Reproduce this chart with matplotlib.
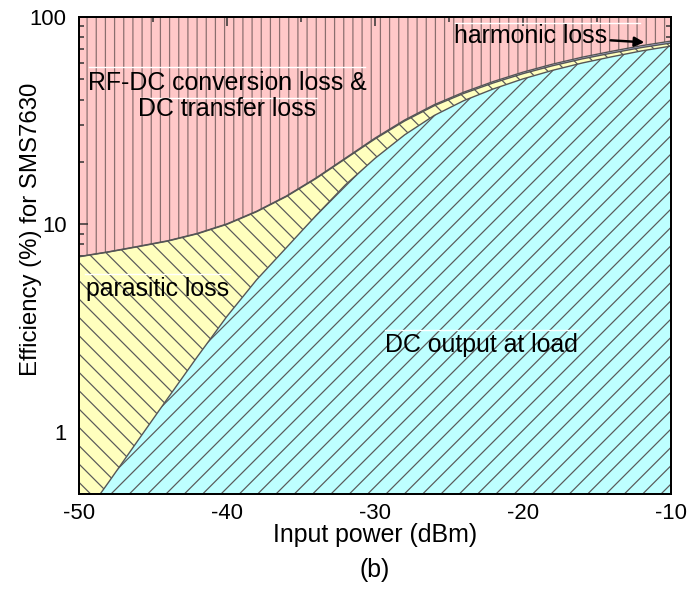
import numpy as np
import matplotlib
matplotlib.use("Agg")
import matplotlib.pyplot as plt
from matplotlib.ticker import FixedLocator, LogLocator, NullFormatter, FixedFormatter

plt.rcParams['font.family'] = ['Liberation Sans', 'DejaVu Sans']
plt.rcParams['axes.unicode_minus'] = False
plt.rcParams['hatch.linewidth'] = 0.8

# Input power (dBm)
input_power = [-50, -48, -46, -44, -42, -40, -38, -36, -34, -32, -30,
               -28, -26, -24, -22, -20, -18, -16, -14, -12, -10]
# efficiency components (%)
dc_output = [0.36, 0.57, 0.91, 1.45, 2.3, 3.6, 5.4, 7.7, 11.0, 15.5, 20.8,
             27.0, 33.5, 39.5, 45.0, 50.3, 55.3, 60.0, 64.3, 68.6, 72.4]
parasitic_loss = [6.61, 6.78, 6.89, 6.85, 6.70, 6.40, 6.10, 5.90, 5.60, 5.20, 5.00,
                  4.50, 3.80, 3.30, 3.10, 3.00, 2.90, 2.80, 2.70, 2.60, 2.50]
harmonic_loss = [0.02, 0.02, 0.03, 0.03, 0.04, 0.05, 0.06, 0.08, 0.11, 0.15, 0.25,
                 0.35, 0.45, 0.60, 0.75, 0.90, 1.05, 1.20, 1.35, 1.50, 1.65]

DPI = 110
x = np.array(input_power, dtype=float)
stack = np.cumsum(np.vstack([dc_output, parasitic_loss, harmonic_loss]), axis=0)
top = np.full_like(x, 100.0)
floor = np.full_like(x, 0.01)

fig = plt.figure(figsize=(687 / DPI, 601 / DPI), dpi=DPI)
ax = fig.add_axes([0.115, 0.178, 0.8617, 0.7937])

edge = '#5a5a5a'
ax.fill_between(x, stack[2], top, facecolor='#FFC8C8', edgecolor='#8a6e6e',
                hatch='||', linewidth=0, zorder=1)
ax.fill_between(x, stack[1], stack[2], facecolor='#A8AEE8', edgecolor=edge,
                linewidth=0, zorder=2)
ax.fill_between(x, stack[0], stack[1], facecolor='#FFFFBE', edgecolor=edge,
                hatch='\\\\', linewidth=0, zorder=2)
ax.fill_between(x, floor, stack[0], facecolor='#BEFFFF', edgecolor=edge,
                hatch='//', linewidth=0, zorder=2)
for b in stack:
    ax.plot(x, b, color='#555555', lw=0.9, zorder=3)

ax.set_yscale('log')
ax.set_xlim(-50, -10)
ax.set_ylim(0.5, 100)
ax.xaxis.set_major_locator(FixedLocator([-50, -40, -30, -20, -10]))
ax.xaxis.set_minor_locator(FixedLocator([-45, -35, -25, -15]))
ax.yaxis.set_major_locator(FixedLocator([1, 10, 100]))
ax.yaxis.set_major_formatter(FixedFormatter(['1', '10', '100']))
ax.yaxis.set_minor_locator(LogLocator(base=10, subs=np.arange(2, 10)))
ax.yaxis.set_minor_formatter(NullFormatter())
ax.tick_params(which='both', direction='in', top=True, right=True,
               labelsize=14.5, color='#333333')
ax.tick_params(which='major', length=6, width=1)
ax.tick_params(which='minor', length=3.5, width=1)
ax.tick_params(axis='x', pad=6)
ax.tick_params(axis='y', pad=8)
for s in ax.spines.values():
    s.set_linewidth(1.3)
    s.set_zorder(5)

fs = 16.3
ax.set_xlabel('Input power (dBm)', fontsize=fs)
ax.xaxis.set_label_coords(0.5, -0.061)
ax.set_ylabel('Efficiency (%) for SMS7630', fontsize=15.7)
ax.yaxis.set_label_coords(-0.0625, 0.555)
fig.text(0.546, 0.052, '(b)', ha='center', va='center', fontsize=fs)

ax.text(-40.0, 41.5, 'RF-DC conversion loss &\nDC transfer loss', ha='center',
        va='center', fontsize=fs, linespacing=1.12, zorder=6)
ax.text(-49.5, 4.87, 'parasitic loss', ha='left', va='center', fontsize=fs, zorder=6)
ax.text(-22.8, 2.62, 'DC output at load', ha='center', va='center', fontsize=fs, zorder=6)
ax.annotate('harmonic loss', xy=(-11.8, 75.5), xytext=(-19.46, 81.3),
            ha='center', va='center', fontsize=fs, zorder=6,
            arrowprops=dict(arrowstyle='-|>', color='black', lw=1.6,
                            shrinkA=0, shrinkB=0, mutation_scale=13))

# thin white lines above the label texts
for (x0, x1, yy) in [(-49.3, -30.7, 57.5), (-45.9, -33.9, 40.8), (-49.6, -39.8, 5.75),
                     (-29.3, -16.3, 3.09), (-24.6, -12.1, 93.9)]:
    ax.plot([x0, x1], [yy, yy], color='white', lw=0.9, zorder=5)

fig.savefig('out.png', dpi=DPI)
